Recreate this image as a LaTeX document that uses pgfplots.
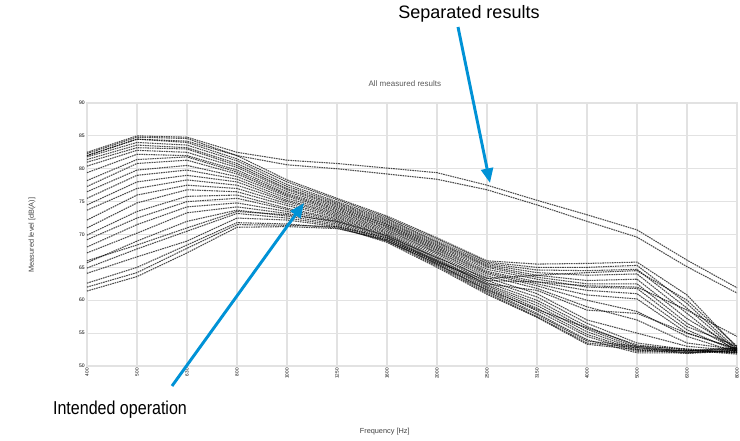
\documentclass[border=0pt]{standalone}
\usepackage{pgfplots}
\pgfplotsset{compat=1.18}
\usepackage{pgfplotstable}
\usepackage{fontspec}
\setmainfont{Liberation Sans}
\newfontfamily\narrowfont{Liberation Sans}[FakeStretch=0.86]
\usetikzlibrary{arrows.meta}
\definecolor{arrowblue}{RGB}{0,146,214}
\definecolor{gridgray}{RGB}{226,226,226}

% frequency index: 0=400,1=500,2=630,3=800,4=1000,5=1250,6=1600,7=2000,8=2500,9=3150,10=4000,11=5000,12=6300,13=8000
\pgfplotstableread{
f  c1   c2   c3   c4   c5   c6   c7   c8   c9   c10  c11  c12  c13  c14  c15  c16  c17  c18  c19  c20  c21  c22  c23  c24  c25  c26
0  82.3 82.0 81.8 81.4 81.0 80.4 79.4 78.2 77.3 76.5 75.5 74.5 73.7 72.2 71.0 69.9 69.2 68.1 67.2 65.7 64.9 64.1 62.6 62.0 61.4 66.0
1  84.8 84.5 84.0 83.6 83.2 82.8 82.2 81.4 80.8 79.8 79.0 78.0 77.0 76.0 74.8 73.5 72.5 71.5 70.2 69.0 67.8 66.6 65.0 64.2 63.6 68.4
2  84.6 84.0 83.6 83.2 83.0 82.5 82.0 81.8 81.3 80.5 79.8 79.0 78.3 77.5 76.8 75.8 75.0 74.2 73.3 72.0 70.5 69.0 68.4 67.9 67.2 71.0
3  82.0 81.5 81.2 80.8 80.5 80.2 79.8 79.5 79.2 78.8 78.4 78.0 77.5 77.0 76.5 76.0 75.5 74.8 74.2 73.7 73.2 72.5 71.8 71.5 71.1 73.5
4  78.3 78.0 77.6 77.3 77.0 76.8 76.5 76.2 76.0 75.8 75.5 75.2 75.0 74.7 74.4 74.0 73.8 73.5 73.2 72.8 72.5 72.2 71.6 71.4 71.2 73.0
5  75.5 75.3 75.0 74.8 74.6 74.4 74.2 74.0 73.8 73.6 73.4 73.2 73.0 72.8 72.6 72.4 72.2 72.0 71.8 71.6 71.4 71.2 71.0 71.2 70.9 72.0
6  72.8 72.6 72.4 72.2 72.0 71.8 71.6 71.5 71.3 71.2 71.0 70.8 70.6 70.4 70.2 70.0 69.8 69.6 69.4 69.2 69.0 68.8 69.0 69.5 69.2 69.8
7  69.5 69.3 69.0 68.8 68.6 68.4 68.2 68.0 67.8 67.6 67.4 67.2 67.0 66.7 66.4 66.2 66.0 65.8 65.6 65.4 65.2 65.0 65.5 66.0 65.8 66.5
8  66.0 65.8 65.6 65.4 65.2 65.0 64.7 64.4 64.2 64.0 63.7 63.4 63.0 62.7 62.4 62.2 62.0 61.8 61.5 61.3 61.1 60.9 61.6 62.5 63.0 63.3
9  65.5 65.0 64.6 64.2 63.8 63.5 63.2 62.8 62.5 62.2 61.8 61.0 60.5 60.0 59.6 59.2 58.8 58.4 58.0 57.8 57.5 57.4 58.6 61.5 62.8 63.8
10 65.6 65.0 64.5 63.8 63.0 62.5 62.0 61.5 60.8 60.0 59.0 57.0 56.5 56.0 55.6 55.2 54.8 54.5 54.0 53.8 53.5 53.3 55.8 58.5 62.2 64.2
11 65.8 65.3 64.7 64.0 63.2 62.5 61.8 61.0 60.2 58.3 57.0 55.0 53.5 53.0 52.8 52.6 52.4 52.2 52.0 53.0 52.8 52.5 53.2 58.0 62.0 64.5
12 60.8 59.5 58.8 58.0 57.2 56.5 56.0 55.5 55.0 54.5 53.5 53.0 52.5 52.2 52.0 52.3 52.1 52.4 52.0 52.6 52.3 51.9 52.4 55.0 58.5 60.0
13 52.8 52.5 52.3 52.0 52.7 52.4 53.0 52.2 52.6 52.1 52.5 52.3 52.0 52.6 52.4 52.8 52.2 51.8 52.5 52.0 52.7 52.3 52.0 52.6 54.5 53.0
}\bundle

\pgfplotstableread{
f  s1   s2
0  82.5 82.0
1  85.0 84.5
2  84.8 84.2
3  82.5 82.0
4  81.3 80.6
5  80.8 80.0
6  80.1 79.2
7  79.4 78.4
8  77.5 76.8
9  75.2 74.5
10 73.0 72.0
11 70.7 69.6
12 66.1 65.1
13 61.9 61.1
}\separated

\begin{document}
\begin{tikzpicture}
\path[use as bounding box] (0,0) rectangle (555pt,330.75pt);
\begin{axis}[
  at={(65.25pt,56.25pt)}, anchor=south west,
  scale only axis, width=487.5pt, height=197.25pt,
  xmin=0, xmax=13, ymin=50, ymax=90,
  xtick={0,...,13},
  xticklabels={400,500,630,800,1000,1250,1600,2000,2500,3150,4000,5000,6300,8000},
  ytick={50,55,...,90},
  grid=major,
  major grid style={gridgray, line width=0.8pt},
  axis line style={gridgray, line width=0.8pt},
  tick style={draw=none},
  /pgf/number format/assume math mode=true,
  xticklabel style={font=\fontsize{3.5}{4}\selectfont, rotate=90, anchor=east, inner sep=1.5pt},
  yticklabel style={font=\fontsize{3.8}{4}\selectfont, inner sep=1.5pt},
  title={All measured results},
  title style={font=\fontsize{6}{7}\selectfont, text=black!65, at={(axis description cs:0.489,1.042)}, anchor=center},
  xlabel={Frequency [Hz]},
  xlabel style={font=\fontsize{5.5}{6}\selectfont, text=black!75, at={(axis description cs:0.458,-0.251)}, anchor=center},
  ylabel={Measured level [dB(A)]},
  ylabel style={font=\fontsize{5.5}{6}\selectfont, text=black!75, at={(axis description cs:-0.0846,0.498)}, anchor=center},
  curve/.style={black, no markers, opacity=0.7, line width=0.8pt, dash pattern=on 1.2pt off 0.6pt},
]
\pgfplotsinvokeforeach{1,...,26}{
  \addplot[curve] table[x=f, y=c#1] {\bundle};
}
\addplot[curve] table[x=f, y=s1] {\separated};
\addplot[curve] table[x=f, y=s2] {\separated};
\end{axis}

\draw[arrowblue, line width=2.2pt, -{Triangle[length=11pt, width=9pt]}] (343.5pt,310.5pt) -- (367.5pt,193.5pt);
\draw[arrowblue, line width=2.2pt, -{Triangle[length=11pt, width=9pt]}] (129pt,41.25pt) -- (228pt,178.5pt);
\node[font=\fontsize{13.5}{15}\selectfont, anchor=center] at (351.75pt,320.25pt) {Separated results};
\node[font=\narrowfont\fontsize{14}{16}\selectfont, anchor=center] at (90pt,23.25pt) {Intended operation};
\end{tikzpicture}
\end{document}
